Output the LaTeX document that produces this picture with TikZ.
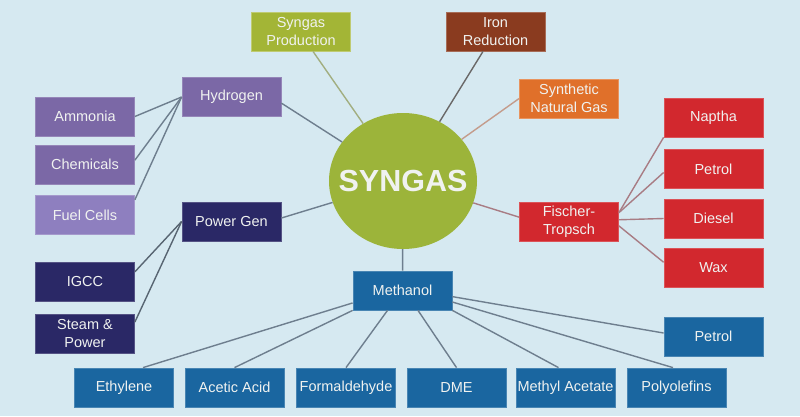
\documentclass[tikz,border=0pt]{standalone}
\usepackage{fontspec}
\setmainfont{Liberation Sans}
\usetikzlibrary{calc,shapes.geometric}
\definecolor{bg}{HTML}{D6E9F1}
\definecolor{cOlive}{HTML}{A3B536}
\definecolor{cBrown}{HTML}{8A3B1F}
\definecolor{cOrange}{HTML}{E0702A}
\definecolor{cPurple}{HTML}{7B68A6}
\definecolor{cLPurple}{HTML}{8E7FBF}
\definecolor{cNavy}{HTML}{2A2866}
\definecolor{cRed}{HTML}{D2282E}
\definecolor{cBlue}{HTML}{1A66A0}
\definecolor{cGreen}{HTML}{9CB43A}
\definecolor{txt}{HTML}{F0F2F0}
\definecolor{lnGray}{HTML}{6E7E8E}
\definecolor{lnRed}{HTML}{A87C84}
\definecolor{lnTan}{HTML}{C49C8C}
\definecolor{lnOlive}{HTML}{A2AE80}
\definecolor{lnDark}{HTML}{6A6868}
\begin{document}
\begin{tikzpicture}[x=1pt,y=-1pt,
  box/.style={rectangle, minimum width=99pt, minimum height=39pt, inner sep=0pt,
    align=center, text=txt, line width=0.8pt,
    font=\fontsize{14.5}{17.5}\selectfont},
  olivebox/.style={box, fill=cOlive, draw=cOlive!70!white},
  brownbox/.style={box, fill=cBrown, draw=cBrown!75!white},
  orangebox/.style={box, fill=cOrange, draw=cOrange!75!white},
  purplebox/.style={box, fill=cPurple, draw=cPurple!80!white},
  lpurplebox/.style={box, fill=cLPurple, draw=cLPurple!80!white},
  navybox/.style={box, fill=cNavy, draw=cNavy!80!white},
  redbox/.style={box, fill=cRed, draw=cRed!80!white},
  bluebox/.style={box, fill=cBlue, draw=cBlue!80!white},
  conn/.style={line width=1.4pt, draw=lnGray},
  hub/.style={ellipse, fill=cGreen, minimum width=148pt, minimum height=136pt,
    inner sep=0pt},
  hubtext/.style={text=txt, inner sep=0pt, font=\bfseries\fontsize{30.5}{34}\selectfont}
]
\fill[bg] (0,0) rectangle (800,416);
\useasboundingbox (0,0) rectangle (800,416);

\node[hub] (syn) at (403,181) {};
\node[hubtext] (syntext) at (syn.center) {SYNGAS};

\node[olivebox] (sp) at (301,31.5) {Syngas\\Production};
\node[brownbox] (ir) at (495.5,31.5) {Iron\\Reduction};
\node[orangebox] (sng) at (569,98.5) {Synthetic\\Natural Gas};

\node[purplebox] (hyd) at (231.5,97) {Hydrogen};
\node[purplebox] (amm) at (85,116.5) {Ammonia};
\node[purplebox] (chem) at (85,164.5) {Chemicals};
\node[lpurplebox] (fuel) at (85,215) {Fuel Cells};

\node[navybox] (pg) at (231.5,221.5) {Power Gen};
\node[navybox] (igcc) at (85,281.5) {IGCC};
\node[navybox] (steam) at (85,333.5) {Steam \&\\Power};

\node[redbox] (ft) at (569,221.5) {Fischer-\\Tropsch};
\node[redbox] (nap) at (713.5,117.5) {Naptha};
\node[redbox] (petr) at (713.5,169) {Petrol};
\node[redbox] (dies) at (713.5,218.5) {Diesel};
\node[redbox] (wax) at (713.5,267.5) {Wax};

\node[bluebox] (meth) at (402.5,290.5) {Methanol};
\node[bluebox] (petb) at (713.5,336.5) {Petrol};
\node[bluebox] (eth) at (124,387.5) {Ethylene};
\node[bluebox] (acet) at (234.5,387.5) {Acetic Acid};
\node[bluebox] (form) at (346,387.5) {Formaldehyde};
\node[bluebox] (dme) at (456.5,387.5) {DME};
\node[bluebox] (meac) at (565.5,387.5) {Methyl Acetate};
\node[bluebox] (poly) at (676.5,387.5) {Polyolefins};

% connectors to hub
\draw[conn, draw=lnOlive] ($(sp.south)+(12,0)$) -- (syn);
\draw[conn, draw=lnDark] ($(ir.south)+(-12.5,0)$) -- (syn);
\draw[conn, draw=lnTan] (sng.west) -- (syn);
\draw[conn] (hyd.-7) -- (syn);
\draw[conn] (pg.4) -- (syn);
\draw[conn, draw=lnRed] (ft.175) -- (syn);
\draw[conn] (syn) -- (meth);

% hydrogen branch
\draw[conn] (hyd.west) -- (amm.east);
\draw[conn] (hyd.west) -- (chem.5);
\draw[conn] (hyd.west) -- (fuel.17);

% power gen branch
\draw[conn, draw=lnGray!80!black] (pg.west) -- (igcc.11);
\draw[conn, draw=lnGray!80!black] (pg.west) -- (steam.13);

% Fischer-Tropsch branch
\draw[conn, draw=lnRed] (ft.10) -- (nap.south west);
\draw[conn, draw=lnRed] (ft.10) -- (petr.184);
\draw[conn, draw=lnRed] (ft.2) -- (dies.west);
\draw[conn, draw=lnRed] (ft.-5) -- (wax.174);

% methanol branch
\draw[conn] (meth.194) -- ($(eth.north)+(19,0)$);
\draw[conn] (meth.south west) -- (acet.north);
\draw[conn] ($(meth.south)+(-15,0)$) -- (form.north);
\draw[conn] ($(meth.south)+(15.5,0)$) -- (dme.north);
\draw[conn] (meth.south east) -- ($(meac.north)+(-7,0)$);
\draw[conn] (meth.-13) -- ($(poly.north)+(-3.5,0)$);
\draw[conn] (meth.-7) -- (petb.176);
\end{tikzpicture}
\end{document}
